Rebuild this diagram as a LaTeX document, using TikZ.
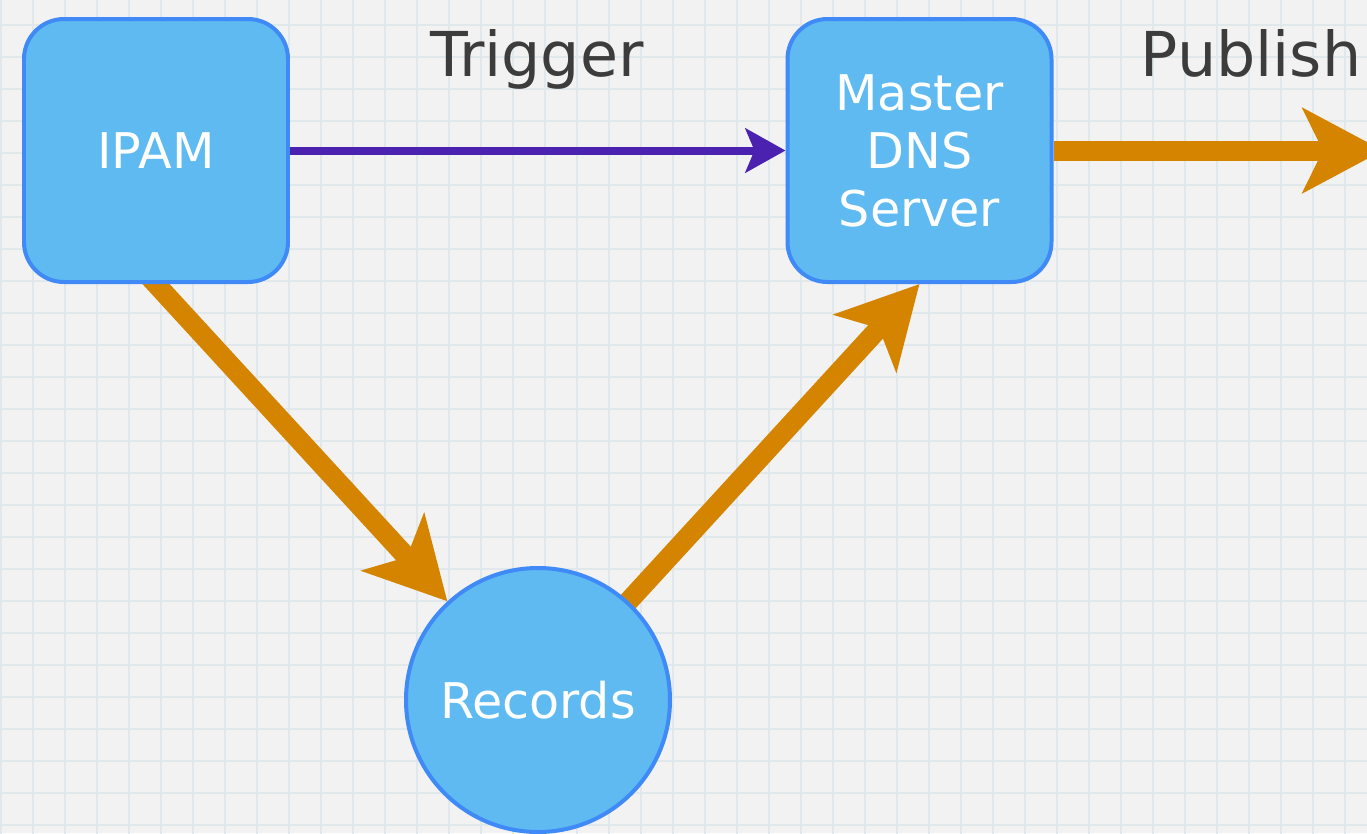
\documentclass[tikz,border=0pt]{standalone}
\usepackage{fontspec}
\setmainfont{DejaVu Sans}
\usetikzlibrary{arrows.meta}
\definecolor{nodefill}{HTML}{5EBAF0}
\definecolor{nodeline}{HTML}{3F8AF6}
\definecolor{trigcol}{HTML}{4B22B0}
\definecolor{flowcol}{HTML}{D58400}
\definecolor{labcol}{HTML}{3C3C3C}
\definecolor{paper}{HTML}{F2F2F2}
\definecolor{gridcol}{HTML}{E1E8EB}
\pgfdeclarelayer{paperlayer}
\pgfdeclarelayer{background}
\pgfsetlayers{paperlayer,background,main}

\begin{document}
\begin{tikzpicture}[
  box/.style={draw=nodeline, fill=nodefill, line width=0.04cm, rounded corners=0.4cm,
    minimum width=2.64cm, minimum height=2.63cm, inner sep=0pt, align=center,
    text=white, font=\fontsize{14}{16.5}\selectfont},
  ball/.style={draw=nodeline, fill=nodefill, line width=0.04cm, circle,
    minimum size=2.64cm, inner sep=0pt, text=white, font=\fontsize{14}{16.5}\selectfont},
  trig/.style={draw=trigcol, line width=0.08cm, -{Stealth[length=0.4cm, width=0.44cm, inset=0.09cm]}},
  flow/.style={draw=flowcol, line width=0.2cm, -{Stealth[length=0.8cm, width=0.84cm, inset=0.2cm]}},
  lbl/.style={text=labcol, anchor=base, font=\fontsize{17.6}{20}\selectfont}
]
\path[use as bounding box] (0,0) rectangle (13.67,-8.33);
\begin{pgfonlayer}{paperlayer}
\fill[paper] (0,0) rectangle (13.67,-8.33);
\clip (0,0) rectangle (13.67,-8.33);
\draw[gridcol, line width=0.012cm, shift={(0.01,-0.25)}, step=0.32] (-0.32,-8.64) grid (13.76,0.32);
\end{pgfonlayer}

\node[box] (ipam) at (1.56,-1.505) {IPAM};
\node[box] (master) at (9.195,-1.505) {Master\\DNS\\Server};
\node[ball] (records) at (5.38,-7.0) {Records};
\coordinate (pubend) at (13.83,-1.505);

\begin{pgfonlayer}{background}
\path[trig] (ipam) -- (master);
\path[flow, shorten <=-0.3cm] (ipam.south) -- (records);
\path[flow] (records.center) -- (master.south);
\path[flow] (master.east) -- (pubend);
\end{pgfonlayer}

\node[lbl] (trigtxt) at (5.37,-0.76) {Trigger};
\node[lbl] (pubtxt) at (12.51,-0.76) {Publish};
\end{tikzpicture}
\end{document}
